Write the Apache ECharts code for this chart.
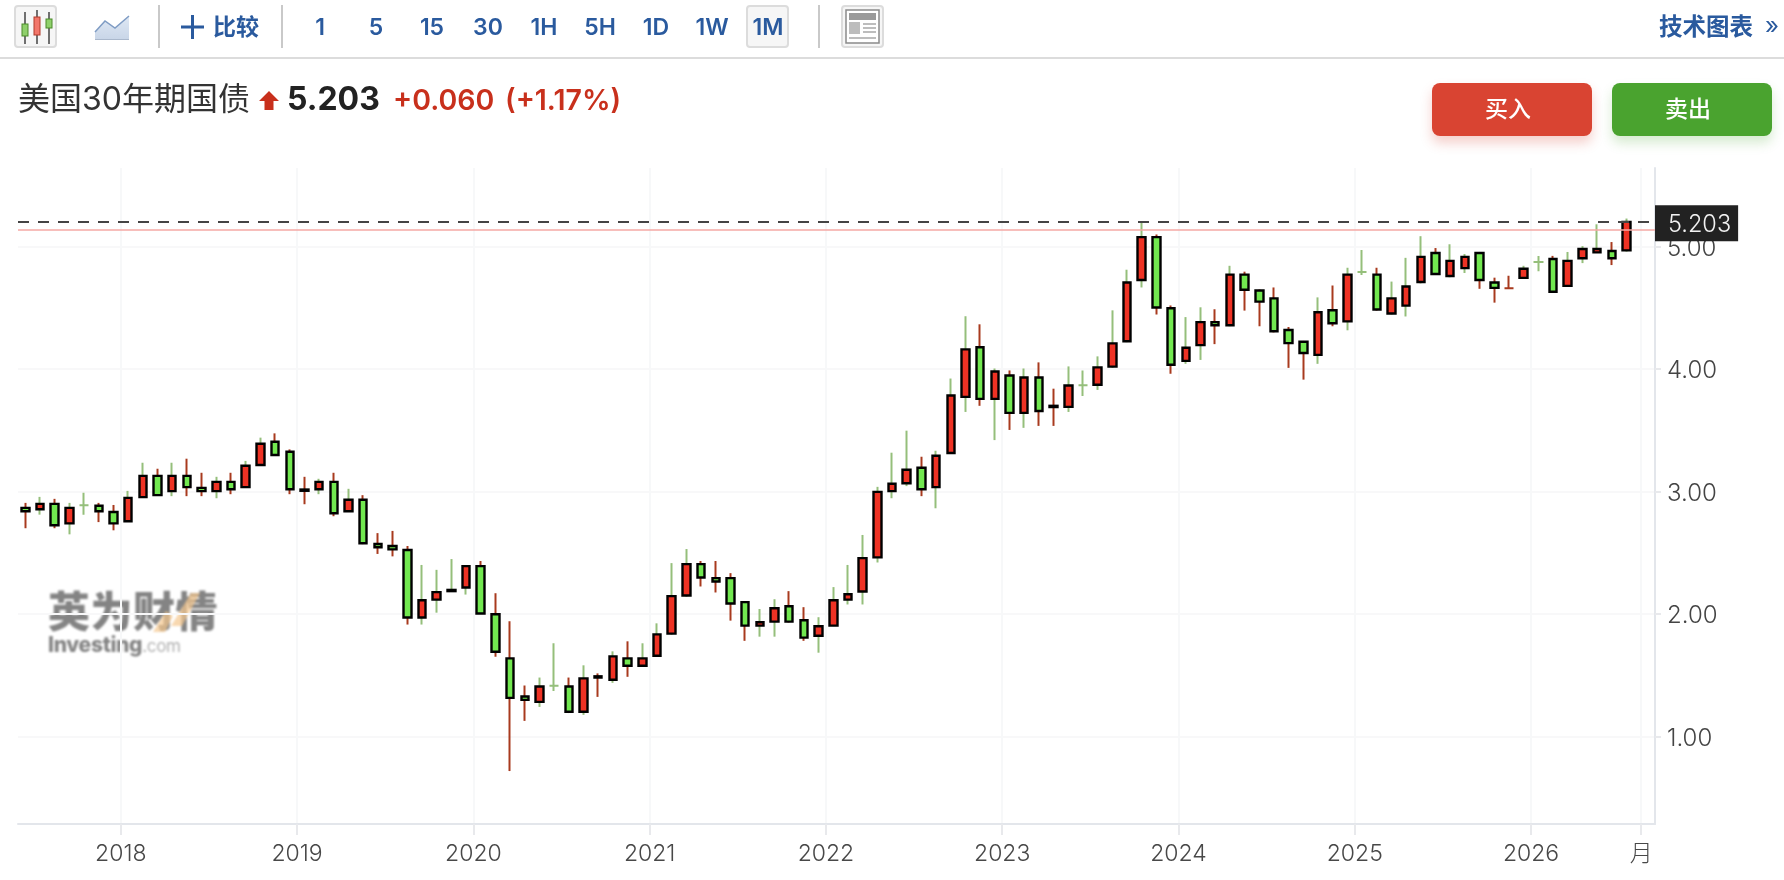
<!DOCTYPE html>
<html lang="zh">
<head>
<meta charset="utf-8">
<title>美国30年期国债</title>
<script src="https://cdn.jsdelivr.net/npm/echarts@6/dist/echarts.min.js"></script>
<style>
html,body{margin:0;padding:0;width:1784px;height:880px;background:#fff;overflow:hidden;font-family:Inter,"Noto Sans CJK SC",sans-serif}
.a{position:absolute;white-space:nowrap}
.tb{color:#2a5a9e;font-weight:600;font-size:23px;line-height:30px;top:12px;width:56px;text-align:center}
.sep{width:2px;height:43px;top:5px;background:#c9c9c9}
.iconbox{box-sizing:border-box;top:5px;height:43px;border:2px solid #dcdcdc;border-radius:4px;background:#f6f6f6}
.btn{top:83px;width:160px;height:53px;border-radius:8px;color:#fff;font-size:23px;line-height:53px;text-align:center;font-weight:500;box-sizing:border-box;padding-right:8px}
#chart{position:absolute;left:0;top:0;width:1784px;height:880px}
</style>
</head>
<body>
<div class="a" id="wm" style="left:48px;top:589px;filter:blur(1px);color:#848484">
  <div style="font-size:42px;font-weight:900;line-height:46px;width:175px;letter-spacing:.5px">英为财情</div>
  <svg class="a" style="left:0;top:0" width="175" height="50"><path d="M152 4L143 4L123 37L134 37ZM105 43L118 22L125 27L117 43Z" fill="#f5c88f" opacity=".7"/></svg>
  <div style="font-size:21px;font-weight:800;line-height:20px;margin-top:0;letter-spacing:-.3px">Investing<span style="font-weight:400;font-size:17px;color:#b0b0b0">.com</span></div>
</div>
<div id="chart"></div>

<div class="a iconbox" style="left:14px;width:43px">
  <svg width="39" height="39" viewBox="0 0 39 39">
    <path d="M9 5V37M21 3V37M33 5V37" stroke="#444" stroke-width="1.5"/>
    <rect x="6" y="17" width="6" height="12" fill="#8fd06b" stroke="#4a8a2a"/>
    <rect x="18" y="10" width="6" height="18" fill="#f2766a" stroke="#b03a2a"/>
    <rect x="30" y="12" width="6" height="9" fill="#8fd06b" stroke="#4a8a2a"/>
  </svg>
</div>
<svg class="a" style="left:94px;top:14px" width="36" height="27" viewBox="0 0 36 27">
  <defs><linearGradient id="g" x1="0" y1="0" x2="0" y2="1"><stop offset="0" stop-color="#dfe8f4"/><stop offset="1" stop-color="#c9d6e8"/></linearGradient></defs>
  <path d="M1 18L11 7L21 14L35 2V25H1Z" fill="url(#g)"/>
  <path d="M1 18L11 7L21 14L35 2" fill="none" stroke="#7f9cc4" stroke-width="1.5"/>
  <path d="M1 25.5H35" stroke="#aab8cc"/>
</svg>
<div class="a sep" style="left:158px"></div>
<svg class="a" style="left:181px;top:15px" width="23" height="24"><path d="M11.5 0V24M0 12H23" stroke="#2a5a9e" stroke-width="3"/></svg>
<div class="a tb" style="left:213px;width:47px;font-size:23px;font-weight:700;text-align:left;letter-spacing:0">比较</div>
<div class="a sep" style="left:281px"></div>
<div class="a tb" style="left:292px">1</div>
<div class="a tb" style="left:348px">5</div>
<div class="a tb" style="left:404px">15</div>
<div class="a tb" style="left:460px">30</div>
<div class="a tb" style="left:516px">1H</div>
<div class="a tb" style="left:572px">5H</div>
<div class="a tb" style="left:628px">1D</div>
<div class="a tb" style="left:684px">1W</div>
<div class="a iconbox" style="left:746px;width:43px"></div>
<div class="a tb" style="left:740px">1M</div>
<div class="a sep" style="left:818px"></div>
<div class="a iconbox" style="left:841px;width:43px">
  <svg width="39" height="39" viewBox="0 0 39 39">
    <rect x="3" y="3" width="33" height="33" fill="#fff" stroke="#8a8a8a" stroke-width="1.5"/>
    <rect x="6" y="6" width="27" height="7" fill="#9a9a9a"/>
    <rect x="6" y="15" width="11" height="12" fill="#bdbdbd"/>
    <path d="M20 17H33M20 21H33M20 25H33M6 31H33" stroke="#bdbdbd" stroke-width="2"/>
  </svg>
</div>
<div class="a tb" style="left:1659px;width:96px;text-align:left;font-weight:700;font-size:23.5px">技术图表</div>
<div class="a tb" style="left:1764px;width:16px;font-weight:400;font-size:24px;top:11px">»</div>
<div class="a" style="left:0;top:57px;width:1784px;height:2px;background:#dcdcdc"></div>

<div class="a" style="left:18px;top:80px;font-size:32px;line-height:38px;color:#333">美国30年期国债</div>
<svg class="a" style="left:259px;top:91px" width="20" height="19"><path d="M10 0L20 10H14.5V19H5.5V10H0Z" fill="#c8301c"/></svg>
<div class="a" style="left:287px;top:80px;font-size:32px;line-height:38px;font-weight:700;color:#222">5.203</div>
<div class="a" style="left:393px;top:81px;font-size:28.5px;line-height:38px;font-weight:600;color:#c8301c">+0.060</div>
<div class="a" style="left:505px;top:81px;font-size:28.5px;line-height:38px;font-weight:600;color:#c8301c">(+1.17%)</div>

<div class="a btn" style="left:1432px;background:#d94432;box-shadow:0 7px 12px rgba(217,68,50,.25)">买入</div>
<div class="a btn" style="left:1612px;background:#4aa32f;box-shadow:0 7px 12px rgba(74,163,47,.22)">卖出</div>

<script>
// Monthly candles (index 0 is the first bar on the left).
const opens = [2.866,2.855,2.899,2.74,2.888,2.883,2.833,2.757,2.954,3.128,
3.003,3.128,3.03,3.003,3.079,3.036,3.216,3.407,3.325,3.016,
3.019,3.079,2.839,2.932,2.571,2.555,2.522,1.97,2.117,2.186,
2.216,2.39,1.997,1.637,1.325,1.281,1.413,1.407,1.2,1.49,
1.462,1.637,1.576,1.658,1.839,2.15,2.407,2.292,2.292,2.096,
1.904,1.937,2.063,1.948,1.822,1.904,2.117,2.183,2.462,3.003,
3.068,3.194,3.036,3.314,3.773,4.178,3.757,3.948,3.642,3.932,
3.70,3.691,3.869,3.872,4.02,4.228,4.728,5.078,4.497,4.067,
4.196,4.384,4.358,4.772,4.642,4.578,4.32,4.223,4.116,4.481,
4.39,4.793,4.772,4.454,4.519,4.712,4.949,4.761,4.825,4.949,
4.707,4.661,4.745,4.876,4.90,4.68,4.906,4.954,4.965,4.97];
const closes = [2.839,2.899,2.724,2.866,2.888,2.839,2.74,2.948,3.128,2.97,
3.128,3.036,3.003,3.079,3.019,3.21,3.39,3.298,3.019,3.006,
3.079,2.822,2.932,2.577,2.544,2.527,1.97,2.112,2.178,2.196,
2.39,2.003,1.691,1.314,1.298,1.407,1.413,1.2,1.473,1.48,
1.653,1.576,1.637,1.833,2.145,2.407,2.298,2.265,2.085,1.904,
1.932,2.046,1.937,1.806,1.899,2.112,2.161,2.456,2.997,3.063,
3.178,3.019,3.292,3.784,4.161,3.757,3.981,3.642,3.932,3.658,
3.69,3.866,3.869,4.014,4.21,4.707,5.078,4.503,4.035,4.175,
4.384,4.358,4.772,4.648,4.551,4.309,4.212,4.132,4.465,4.374,
4.772,4.793,4.487,4.578,4.675,4.917,4.777,4.884,4.917,4.728,
4.664,4.661,4.82,4.876,4.632,4.884,4.981,4.981,4.906,5.203];
const highs = [2.907,2.956,2.94,2.907,2.99,2.907,2.89,3.005,3.235,3.186,
3.235,3.268,3.153,3.12,3.153,3.25,3.44,3.475,3.344,3.12,
3.104,3.153,3.022,2.97,2.66,2.678,2.555,2.40,2.36,2.448,
2.39,2.432,2.169,1.94,1.415,1.48,1.76,1.48,1.58,1.514,
1.694,1.776,1.76,1.923,2.415,2.53,2.432,2.432,2.333,2.096,
2.04,2.12,2.186,2.055,1.973,2.219,2.40,2.645,3.038,3.317,
3.497,3.284,3.333,3.923,4.432,4.366,4.005,3.989,4.005,4.055,
3.84,4.022,3.989,4.104,4.48,4.812,5.194,5.10,4.52,4.425,
4.505,4.489,4.844,4.796,4.65,4.667,4.344,4.23,4.586,4.683,
4.828,4.973,4.828,4.715,4.909,5.086,4.989,5.02,4.94,4.957,
4.747,4.763,4.844,4.925,4.925,4.957,5.005,5.183,5.038,5.23];
const lows = [2.70,2.811,2.70,2.65,2.81,2.75,2.683,2.757,2.954,2.97,
2.962,2.962,2.962,2.945,2.978,3.036,3.216,3.298,2.978,2.896,
2.978,2.798,2.839,2.57,2.49,2.47,1.913,1.913,2.01,2.186,
2.158,2.0,1.65,0.716,1.126,1.24,1.37,1.19,1.175,1.322,
1.437,1.486,1.576,1.65,1.83,2.14,2.224,2.175,1.945,1.78,
1.814,1.814,1.93,1.78,1.683,1.9,2.077,2.077,2.42,2.945,
3.044,2.962,2.863,3.31,3.65,3.70,3.42,3.503,3.52,3.536,
3.536,3.65,3.781,3.83,4.01,4.22,4.667,4.446,3.962,4.043,
4.075,4.204,4.35,4.478,4.35,4.30,4.01,3.914,4.043,4.35,
4.317,4.769,4.478,4.446,4.43,4.70,4.77,4.75,4.785,4.656,
4.543,4.661,4.737,4.80,4.624,4.672,4.866,4.95,4.85,4.96];
const redDojiBars = [101];
const lastPrice = 5.203;
const prevClose = 5.143;
const yTicks = [1, 2, 3, 4, 5];
const xTickBars = [6.5, 18.5, 30.5, 42.5, 54.5, 66.5, 78.5, 90.5, 102.5, 110];
const xTickLabels = ['2018','2019','2020','2021','2022','2023','2024','2025','2026','月'];

const FONT = 'Inter, "Noto Sans CJK SC", sans-serif';
const RED = '#EE3224', GREEN = '#72E850', WICK_RED = '#A83A1E', WICK_GREEN = '#95BF7B';

const wickData = [], bodyData = [], dojiData = [];
opens.forEach((o, i) => {
  const c = closes[i], h = highs[i], l = lows[i];
  if (o === c) {
    const col = redDojiBars.includes(i) ? WICK_RED : WICK_GREEN;
    dojiData.push({value: [i, o, c, l, h], itemStyle: {color: col, color0: col, borderColor: col, borderColor0: col, borderColorDoji: col}});
  } else {
    wickData.push([i, o, c, l, h]);
    bodyData.push([i, o, c, Math.min(o, c), Math.max(o, c)]);
  }
});

const chart = echarts.init(document.getElementById('chart'), null, {renderer: 'canvas'});
chart.setOption({
  animation: false,
  backgroundColor: 'transparent',
  grid: {left: 18, right: 129, top: 168, bottom: 56},
  xAxis: {
    type: 'value', min: -0.5, max: 110.94, scale: true,
    axisLine: {show: true, onZero: false, lineStyle: {color: '#E3E6EB', width: 2}},
    axisTick: {show: true, length: 11, customValues: xTickBars, lineStyle: {color: '#E8E9EC', width: 2}},
    axisLabel: {
      customValues: xTickBars, margin: 19, color: '#484848', fontSize: 23, fontWeight: 300, fontFamily: FONT,
      hideOverlap: false, formatter: v => xTickLabels[xTickBars.indexOf(v)]
    },
    splitLine: {show: true, lineStyle: {color: '#F7F8F9', width: 2}}
  },
  yAxis: {
    type: 'value', position: 'right', min: 0.2835, max: 5.643, scale: true,
    axisLine: {show: true, onZero: false, lineStyle: {color: '#E3E6EB', width: 2}},
    axisTick: {show: true, length: 6, customValues: yTicks, lineStyle: {color: '#E8E9EC', width: 2}},
    axisLabel: {
      customValues: yTicks, margin: 12, color: '#444', fontSize: 24, fontWeight: 300, fontFamily: FONT,
      verticalAlign: 'top', lineHeight: 24, padding: [-10, 0, 0, 0], formatter: v => v.toFixed(2)
    },
    splitLine: {show: true, lineStyle: {color: '#F8F8F9', width: 2}}
  },
  series: [
    {
      type: 'candlestick', name: 'wick', barWidth: 1, silent: true, z: 2,
      itemStyle: {color: WICK_GREEN, color0: WICK_RED, borderColor: WICK_GREEN, borderColor0: WICK_RED, borderWidth: 2},
      encode: {x: 0, y: [1, 2, 3, 4]},
      data: wickData,
      markLine: {
        silent: true, symbol: 'none', animation: false, z: 6,
        data: [
          {yAxis: prevClose, lineStyle: {color: '#F5A9A4', type: 'solid', width: 1.5}, label: {show: false}},
          {yAxis: lastPrice, lineStyle: {color: '#444', type: [11, 9], width: 2},
           label: {show: true, position: 'end', distance: 0, formatter: lastPrice.toFixed(3), color: '#f2f2f2',
                   fontSize: 23.5, fontWeight: 300, fontFamily: FONT, backgroundColor: '#222',
                   verticalAlign: 'top', offset: [0, -17], padding: [9, 7, 5, 13], lineHeight: 22}}
        ]
      }
    },
    {
      type: 'candlestick', name: 'doji', barWidth: 10, silent: true, z: 3,
      itemStyle: {borderWidth: 2},
      encode: {x: 0, y: [1, 2, 3, 4]},
      data: dojiData
    },
    {
      type: 'candlestick', name: 'body', barWidth: 8, silent: true, z: 4,
      itemStyle: {color: RED, color0: GREEN, borderColor: '#000', borderColor0: '#000', borderWidth: 2.4},
      encode: {x: 0, y: [1, 2, 3, 4]},
      data: bodyData
    }
  ]
});
</script>
</body>
</html>
